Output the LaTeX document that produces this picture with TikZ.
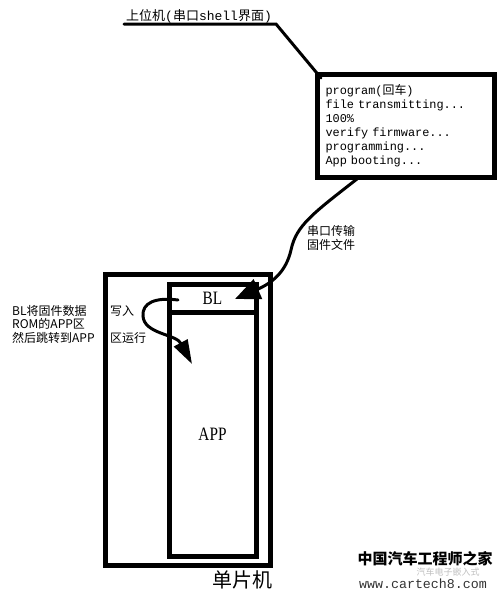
\documentclass[tikz,border=0pt]{standalone}
\usepackage{fontspec}
\setmainfont{Liberation Serif}
\setmonofont{Liberation Mono}
\newfontfamily\cjk{Noto Sans CJK SC}
\usetikzlibrary{arrows.meta, positioning, calc}
\tikzset{
	framebox/.style={
			draw=black,
			line width=5pt,
			inner sep=0pt
		},
	memnode/.style={
			framebox,
			minimum width=87pt,
			font=\fontsize{18}{18}\selectfont
		},
	notenode/.style={
			anchor=west,
			inner sep=0pt,
			font=\cjk\fontsize{12}{12}\selectfont
		},
	curvearrow/.style={
			line width=3pt,
			line cap=round,
			-{Triangle[length=25pt,width=21pt]}
		}
}

\begin{document}
\begin{tikzpicture}[x=1pt, y=-1pt]
\useasboundingbox (0,0) rectangle (504,598);

% host side
\node[anchor=base west, inner sep=0pt, font=\fontsize{13}{13}\selectfont] (host) at (126,20)
  {{\cjk 上位机}{\ttfamily(}{\cjk 串口}{\ttfamily shell}{\cjk 界面}{\ttfamily)}};
\node[framebox, minimum width=177pt, minimum height=103pt, text width=161pt, inner xsep=8pt, align=left,
  font=\ttfamily\fontsize{11.9}{14}\selectfont] (term) at (406,126)
  {program({\cjk 回车})\\file transmitting...\\100\%\\verify firmware...\\programming...\\App booting...};
\coordinate (h1) at (124,24);
\coordinate (h2) at (276,24);
\coordinate (h3) at (321,78);
\draw[line width=3pt, line cap=round] (h1) -- (h2) -- (h3);

% mcu
\node[framebox, minimum width=165.5pt, minimum height=290.5pt] (mcu) at (187.75,419.75) {};
\node[memnode, minimum height=28pt] (bl) at (212.5,298.5) {\scalebox{0.85}[1.05]{BL}};
\node[memnode, minimum height=243.5pt] (app) at (212.5,434.25) {\scalebox{0.85}[1.05]{APP}};
\node[anchor=center, inner sep=0pt, font=\cjk\fontsize{20}{20}\selectfont] (chip) at (242,580) {单片机};

% serial transfer
\coordinate (s0) at (357,179);
\coordinate (s1) at (235,299);
\draw[curvearrow] (s0) .. controls (312,214) and (296,226) .. (291,250)
  .. controls (286,272) and (272,283) .. (s1);
\node[anchor=west, inner sep=0pt, align=left, font=\cjk\fontsize{12}{14}\selectfont] (serial) at (307,238)
  {串口传输\\固件文件};

% bl writes app
\node[notenode] (n1a) at (12,311) {BL将固件数据};
\node[notenode] (n1b) at (110,311) {写入};
\node[notenode] (n2) at (12,324) {ROM的APP区};
\node[notenode] (n3a) at (12,338) {然后跳转到APP};
\node[notenode] (n3b) at (110,338) {区运行};
\coordinate (j0) at (178,300);
\coordinate (j1) at (192,364);
\draw[curvearrow, -{Triangle[length=24pt,width=15pt]}] (j0) .. controls (155,297) and (142,303) .. (143,316)
  .. controls (144,334) and (176,334) .. (j1);

% watermark
\node[inner sep=0pt, font=\cjk\bfseries\fontsize{15}{15}\selectfont] (wm1) at (425,559) {中国汽车工程师之家};
\node[inner sep=0pt, text=black!25, font=\cjk\fontsize{9}{9}\selectfont] (wm2) at (448,572) {汽车电子嵌入式};
\node[inner sep=0pt, text=black!80, font=\ttfamily\fontsize{13.3}{13.3}\selectfont] (wm3) at (423,584) {www.cartech8.com};
\end{tikzpicture}
\end{document}
